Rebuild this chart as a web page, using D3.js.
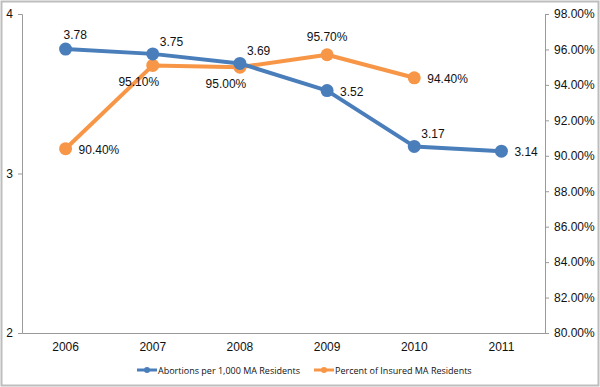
<!DOCTYPE html>
<html>
<head>
<meta charset="utf-8">
<script src="https://cdn.jsdelivr.net/npm/d3@7"></script>
<style>
  body { margin: 0; background: #fff; }
  svg text { font-family: "Liberation Sans", Arial, sans-serif; fill: #111; }
</style>
</head>
<body>
<svg id="chart" width="600" height="387"></svg>
<script>
// data
let years = ["2006", "2007", "2008", "2009", "2010", "2011"]
let abortions = [3.78, 3.75, 3.69, 3.52, 3.17, 3.14]
let insured = [90.4, 95.1, 95.0, 95.7, 94.4]
let leftTicks = [2, 3, 4]
let rightTicks = [80, 82, 84, 86, 88, 90, 92, 94, 96, 98]
let seriesNames = ["Abortions per 1,000 MA Residents", "Percent of Insured MA Residents"]

// where each data label sits relative to its point
let abortLabelPos = ["aboveL", "aboveR", "aboveR", "right", "aboveR", "right"]
let insuredLabelPos = ["right", "belowL", "belowL", "above", "right"]

let blue = "#4a7ebb"
let orange = "#f79646"

let svg = d3.select("#chart")
let margin = { left: 22, right: 55, top: 14, bottom: 54 }
let width = 600, height = 387

svg.append("rect")
    .attr("x", 1.5).attr("y", 1.5)
    .attr("width", width - 3).attr("height", height - 3)
    .attr("fill", "#fff").attr("stroke", "#bdbdbd").attr("stroke-width", 2)

let x = d3.scaleBand()
    .domain(years)
    .range([margin.left, width - margin.right])

let yL = d3.scaleLinear()
    .domain([2, 4])
    .range([height - margin.bottom, margin.top])

let yR = d3.scaleLinear()
    .domain([80, 98])
    .range([height - margin.bottom, margin.top])

let cx = d => x(d) + x.bandwidth() / 2

// left axis
let gl = svg.append("g")
    .attr("transform", `translate(${margin.left},0)`)
    .call(d3.axisLeft(yL).tickValues(leftTicks).tickFormat(d3.format("d")).tickSize(4).tickPadding(5))
gl.select(".domain").attr("stroke", "#9a9a9a")
gl.selectAll(".tick line").attr("stroke", "#9a9a9a")
gl.selectAll("text").attr("font-size", 12)

// right axis
let gr = svg.append("g")
    .attr("transform", `translate(${width - margin.right},0)`)
    .call(d3.axisRight(yR).tickValues(rightTicks).tickFormat(d => d.toFixed(2) + "%").tickSize(4).tickPadding(5))
gr.select(".domain").attr("stroke", "#9a9a9a")
gr.selectAll(".tick line").attr("stroke", "#9a9a9a")
gr.selectAll("text").attr("font-size", 12)

// bottom axis
let gb = svg.append("g")
    .attr("transform", `translate(0,${height - margin.bottom})`)
    .call(d3.axisBottom(x).tickSize(0).tickPadding(9))
gb.select(".domain").attr("stroke", "#9a9a9a")
gb.selectAll("text").attr("font-size", 12)

// lines
let lineL = d3.line().x((d, i) => cx(years[i])).y(d => yL(d))
let lineR = d3.line().x((d, i) => cx(years[i])).y(d => yR(d))

svg.append("path").datum(insured)
    .attr("d", lineR).attr("fill", "none")
    .attr("stroke", orange).attr("stroke-width", 4).attr("stroke-linejoin", "round")
svg.selectAll(".ptR").data(insured).enter().append("circle")
    .attr("cx", (d, i) => cx(years[i])).attr("cy", d => yR(d))
    .attr("r", 6.5).attr("fill", orange)

svg.append("path").datum(abortions)
    .attr("d", lineL).attr("fill", "none")
    .attr("stroke", blue).attr("stroke-width", 4).attr("stroke-linejoin", "round")
svg.selectAll(".ptL").data(abortions).enter().append("circle")
    .attr("cx", (d, i) => cx(years[i])).attr("cy", d => yL(d))
    .attr("r", 6.5).attr("fill", blue)

function placeLabel(pos) {
    if (pos == "right") return { dx: 13, dy: 5, anchor: "start" }
    if (pos == "aboveR") return { dx: 7, dy: -8, anchor: "start" }
    if (pos == "aboveL") return { dx: -2, dy: -10, anchor: "start" }
    if (pos == "above") return { dx: 0, dy: -14, anchor: "middle" }
    if (pos == "belowL") return { dx: -14, dy: 21, anchor: "middle" }
    return { dx: 0, dy: 0, anchor: "middle" }
}

svg.selectAll(".lblL").data(abortions).enter().append("text")
    .each(function (d, i) {
        let p = placeLabel(abortLabelPos[i])
        d3.select(this)
            .attr("x", cx(years[i]) + p.dx)
            .attr("y", yL(d) + p.dy)
            .attr("text-anchor", p.anchor)
    })
    .attr("font-size", 12)
    .text(d => d.toFixed(2))

svg.selectAll(".lblR").data(insured).enter().append("text")
    .each(function (d, i) {
        let p = placeLabel(insuredLabelPos[i])
        d3.select(this)
            .attr("x", cx(years[i]) + p.dx)
            .attr("y", yR(d) + p.dy)
            .attr("text-anchor", p.anchor)
    })
    .attr("font-size", 12)
    .text(d => d.toFixed(2) + "%")

// legend
let legendX = [137, 314]
let legendColors = [blue, orange]
let lg = svg.selectAll(".leg").data(seriesNames).enter().append("g")
    .attr("transform", (d, i) => `translate(${legendX[i]},370)`)
lg.append("line")
    .attr("x1", 0).attr("x2", 20).attr("y1", 0).attr("y2", 0)
    .attr("stroke", (d, i) => legendColors[i]).attr("stroke-width", 3)
lg.append("circle")
    .attr("cx", 10).attr("cy", 0).attr("r", 3)
    .attr("fill", (d, i) => legendColors[i])
lg.append("text")
    .attr("x", 21).attr("y", 3.5)
    .attr("font-size", 9)
    .style("font-family", "'Open Sans', sans-serif")
    .text(d => d)
</script>
</body>
</html>
